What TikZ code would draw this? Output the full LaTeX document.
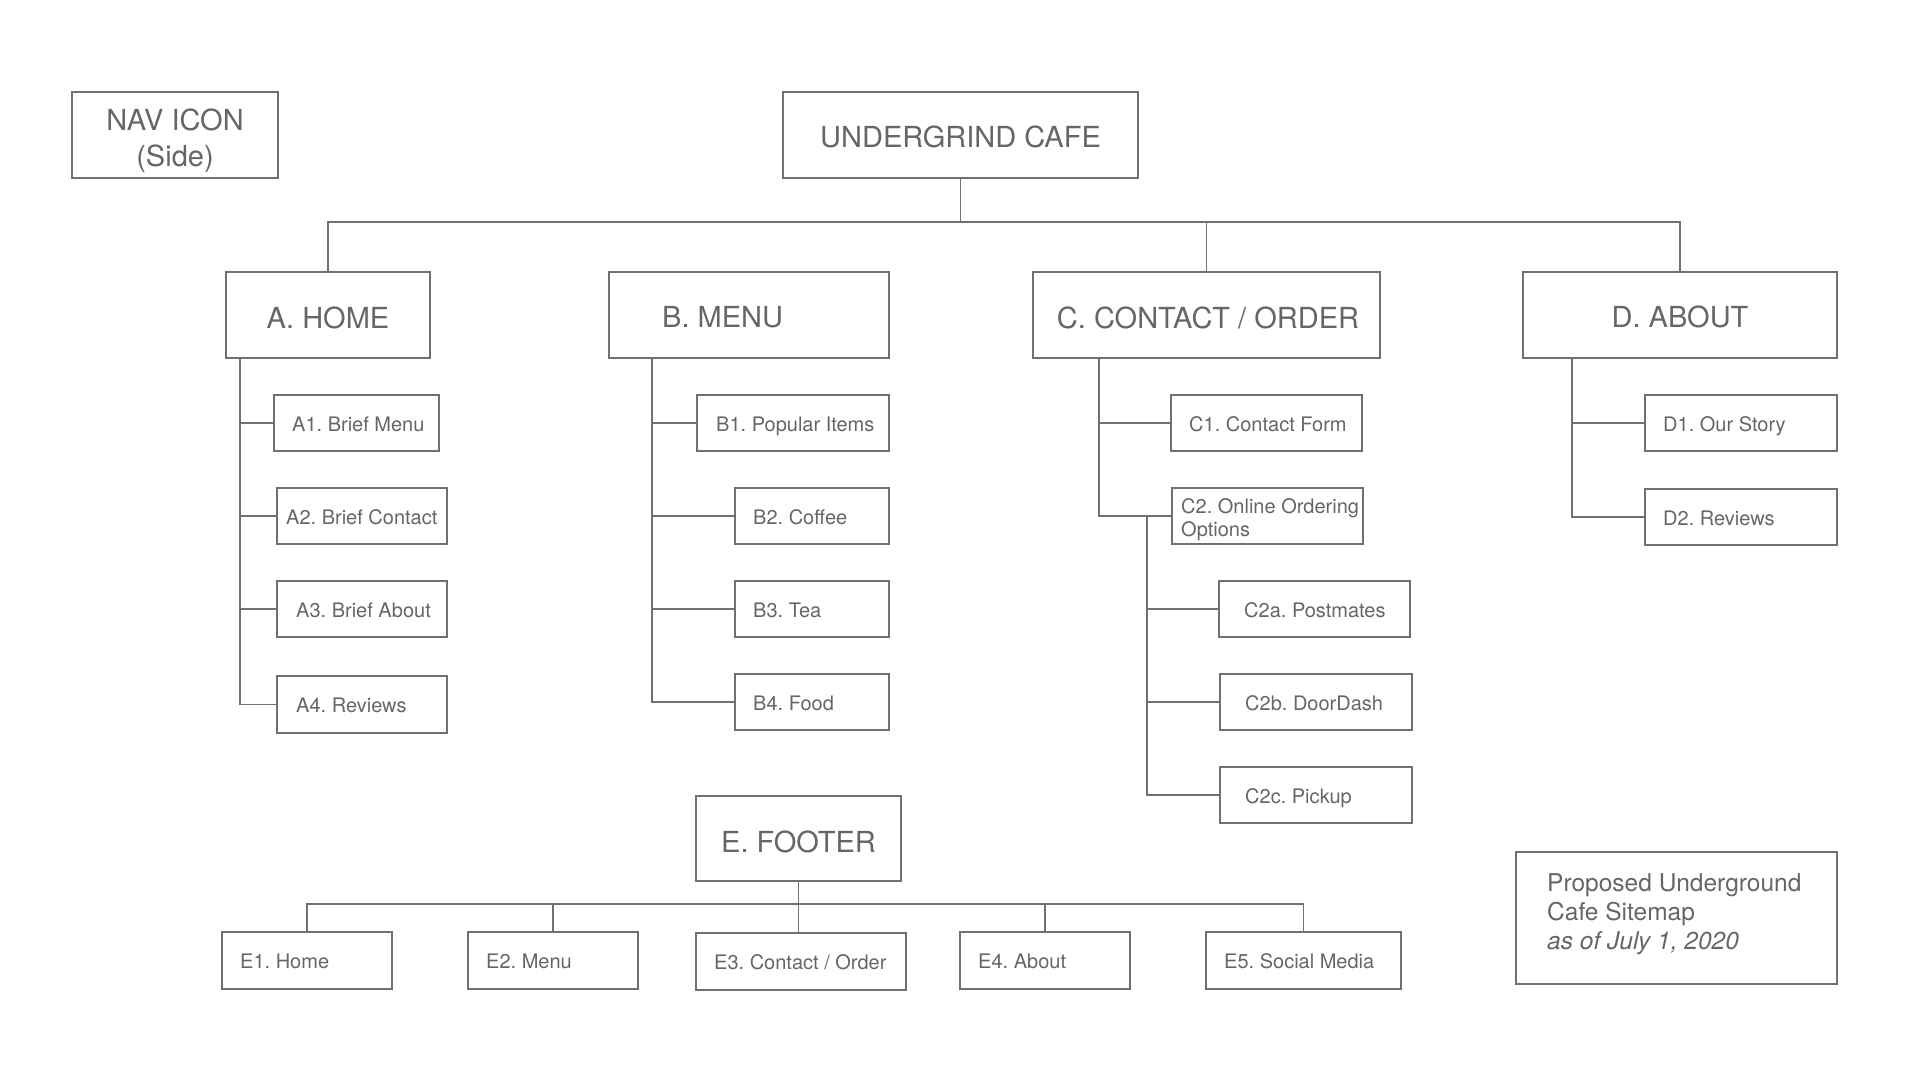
\documentclass[tikz,border=0pt]{standalone}
\usepackage{fontspec}
\setmainfont{TeX Gyre Heros}
\definecolor{lc}{HTML}{707070}
\definecolor{tc}{HTML}{666666}
\newcommand\fbig{\fontsize{29}{35}\selectfont}
\newcommand\fsmall{\fontsize{20}{24}\selectfont}
\newcommand\fcap{\fontsize{24.5}{29}\selectfont}
\newcommand\mkbox[5]{%
  \pgfmathsetmacro\bw{#4-#2}\pgfmathsetmacro\bh{#5-#3}%
  \node[bx, minimum width=\bw pt, minimum height=\bh pt] (#1) at ({(#2+#4)/2},{(#3+#5)/2}) {};}
\newcommand\mktxt[5]{\node[tx, anchor=#2] (#1) at (#3,#4) {#5};}
\frenchspacing
\begin{document}
\frenchspacing
\begin{tikzpicture}[x=1pt,y=-1pt,
  bx/.style={draw=lc, line width=1.4pt, inner sep=0pt, rectangle},
  tx/.style={text=tc, inner sep=0pt, execute at begin node=\frenchspacing},
  ln/.style={draw=lc, line width=1.4pt}]
\fill[white] (0,0) rectangle (1920,1080);
\useasboundingbox (0,0) rectangle (1920,1080);

% boxes
\mkbox{nav}{72}{92}{278}{178}
\mkbox{root}{783}{92}{1138}{178}
\mkbox{A}{226}{272}{430}{358}
\mkbox{B}{609}{272}{889}{358}
\mkbox{C}{1033}{272}{1380}{358}
\mkbox{D}{1523}{272}{1837}{358}
\mkbox{A1}{274}{395}{439}{451}
\mkbox{A2}{277}{488}{447}{544}
\mkbox{A3}{277}{581}{447}{637}
\mkbox{A4}{277}{676}{447}{733}
\mkbox{B1}{697}{395}{889}{451}
\mkbox{B2}{735}{488}{889}{544}
\mkbox{B3}{735}{581}{889}{637}
\mkbox{B4}{735}{674}{889}{730}
\mkbox{C1}{1171}{395}{1362}{451}
\mkbox{C2}{1172}{488}{1363}{544}
\mkbox{C2a}{1219}{581}{1410}{637}
\mkbox{C2b}{1220}{674}{1412}{730}
\mkbox{C2c}{1220}{767}{1412}{823}
\mkbox{D1}{1645}{395}{1837}{451}
\mkbox{D2}{1645}{489}{1837}{545}
\mkbox{E}{696}{796}{901}{881}
\mkbox{E1}{222}{932}{392}{989}
\mkbox{E2}{468}{932}{638}{989}
\mkbox{E3}{696}{933}{906}{990}
\mkbox{E4}{960}{932}{1130}{989}
\mkbox{E5}{1206}{932}{1401}{989}
\mkbox{cap}{1516}{852}{1837}{984}

% texts
\mktxt{navt1}{base}{175}{130}{\fbig NAV ICON}
\mktxt{navt2}{base}{175}{166}{\fbig (Side)}
\mktxt{roott}{base}{960.5}{147}{\fbig UNDERGRIND CAFE}
\mktxt{At}{base}{328}{328}{\fbig A. HOME}
\mktxt{Bt}{base west}{662}{327}{\fbig B. MENU}
\mktxt{Ct}{base}{1208}{328}{\fbig C. CONTACT / ORDER}
\mktxt{Dt}{base}{1680}{327}{\fbig D. ABOUT}
\mktxt{Et}{base}{798.5}{852}{\fbig E. FOOTER}

\mktxt{A1t}{base west}{292}{431}{\fsmall A1. Brief Menu}
\mktxt{A2t}{base west}{286}{524}{\fsmall A2. Brief Contact}
\mktxt{A3t}{base west}{296}{617}{\fsmall A3. Brief About}
\mktxt{A4t}{base west}{296}{712}{\fsmall A4. Reviews}
\mktxt{B1t}{base west}{716}{431}{\fsmall B1. Popular Items}
\mktxt{B2t}{base west}{753}{524}{\fsmall B2. Coffee}
\mktxt{B3t}{base west}{753}{617}{\fsmall B3. Tea}
\mktxt{B4t}{base west}{753}{710}{\fsmall B4. Food}
\mktxt{C1t}{base west}{1189}{431}{\fsmall C1. Contact Form}
\mktxt{C2t1}{base west}{1181}{513}{\fsmall C2. Online Ordering}
\mktxt{C2t2}{base west}{1181}{536}{\fsmall Options}
\mktxt{C2at}{base west}{1244}{617}{\fsmall C2a. Postmates}
\mktxt{C2bt}{base west}{1245}{710}{\fsmall C2b. DoorDash}
\mktxt{C2ct}{base west}{1245}{803}{\fsmall C2c. Pickup}
\mktxt{D1t}{base west}{1663}{431}{\fsmall D1. Our Story}
\mktxt{D2t}{base west}{1663}{525}{\fsmall D2. Reviews}
\mktxt{E1t}{base west}{240}{968}{\fsmall E1. Home}
\mktxt{E2t}{base west}{486}{968}{\fsmall E2. Menu}
\mktxt{E3t}{base west}{714}{969}{\fsmall E3. Contact / Order}
\mktxt{E4t}{base west}{978}{968}{\fsmall E4. About}
\mktxt{E5t}{base west}{1224}{968}{\fsmall E5. Social Media}
\mktxt{capt1}{base west}{1547}{891}{\fcap Proposed Underground}
\mktxt{capt2}{base west}{1547}{920}{\fcap Cafe Sitemap}
\mktxt{capt3}{base west}{1547}{949}{\fcap\itshape as of July 1, 2020}

% connector guides
\coordinate (bus) at (0,222);
\coordinate (ebus) at (0,904);
\coordinate (Av) at (240,0);
\coordinate (Bv) at (652,0);
\coordinate (Cv) at (1099,0);
\coordinate (Csv) at (1147,0);
\coordinate (Dv) at (1572,0);

% top level
\draw[ln] (root.south) -- (root.south |- bus);
\draw[ln] (A.north) -- (A.north |- bus) -| (D.north);
\draw[ln] (C.north) -- (C.north |- bus);

% A branch
\draw[ln] (Av |- A.south) |- (A4.west);
\draw[ln] (Av |- A1.west) -- (A1.west);
\draw[ln] (Av |- A2.west) -- (A2.west);
\draw[ln] (Av |- A3.west) -- (A3.west);
% B branch
\draw[ln] (Bv |- B.south) |- (B4.west);
\draw[ln] (Bv |- B1.west) -- (B1.west);
\draw[ln] (Bv |- B2.west) -- (B2.west);
\draw[ln] (Bv |- B3.west) -- (B3.west);
% C branch
\draw[ln] (Cv |- C.south) |- (C2.west);
\draw[ln] (Cv |- C1.west) -- (C1.west);
\draw[ln] (Csv |- C2.west) |- (C2c.west);
\draw[ln] (Csv |- C2a.west) -- (C2a.west);
\draw[ln] (Csv |- C2b.west) -- (C2b.west);
% D branch
\draw[ln] (Dv |- D.south) |- (D2.west);
\draw[ln] (Dv |- D1.west) -- (D1.west);
% footer
\draw[ln] (E.south) -- (E.south |- E3.north);
\draw[ln] (E1.north) -- (E1.north |- ebus) -| (E5.north);
\draw[ln] (E2.north) -- (E2.north |- ebus);
\draw[ln] (E4.north) -- (E4.north |- ebus);
\end{tikzpicture}
\end{document}
